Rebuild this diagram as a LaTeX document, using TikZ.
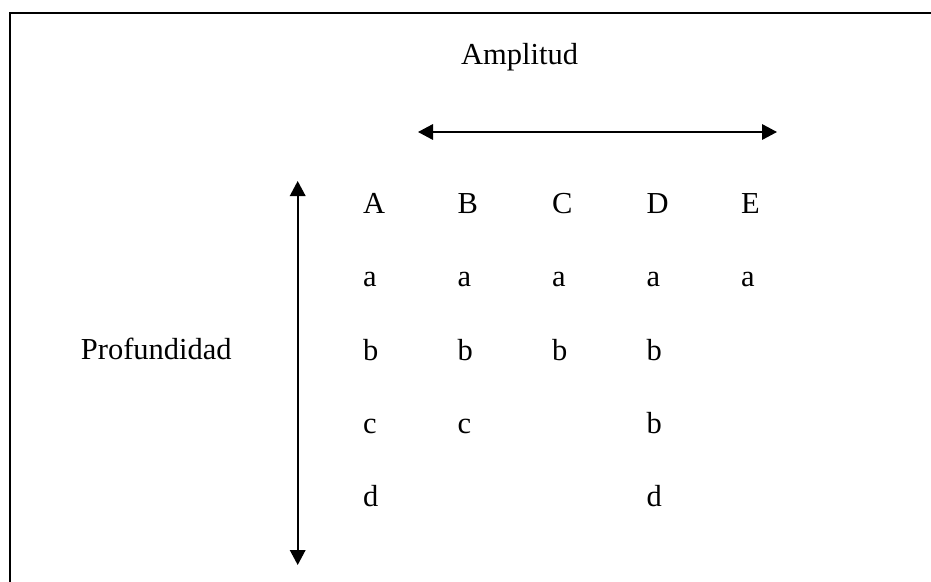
\documentclass[tikz,border=0pt]{standalone}
\usepackage{fontspec}
\setmainfont{Liberation Serif}
\usetikzlibrary{arrows.meta}
\begin{document}
\begin{tikzpicture}[x=1pt,y=-1pt,
  lbl/.style={anchor=base west,inner sep=0pt,font=\fontsize{30.5}{36}\selectfont},
  dbl/.style={line width=1.8pt,{Triangle[length=15pt,width=15.5pt]}-{Triangle[length=15pt,width=15.5pt]}}]
\useasboundingbox (0,0) rectangle (931,581);
% frame
\draw[line width=2pt] (9.8,590) -- (9.8,13) -- (940,13);
% titles
\node[lbl] (amp) at (461,64.3) {Amplitud};
\node[lbl] (prof) at (80.7,359) {Profundidad};
% arrows
\coordinate (hl) at (418,132);
\coordinate (hr) at (777,132);
\coordinate (vt) at (297.7,181);
\coordinate (vb) at (297.7,565);
\draw[dbl] (hl) -- (hr);
\draw[dbl] (vt) -- (vb);
% grid
\def\cA{363}\def\cB{457.5}\def\cC{552}\def\cD{646.5}\def\cE{741}
\def\rA{213.3}\def\rB{286.7}\def\rC{360}\def\rD{433.3}\def\rE{506.7}
\node[lbl] (hA) at (\cA,\rA) {A};
\node[lbl] (hB) at (\cB,\rA) {B};
\node[lbl] (hC) at (\cC,\rA) {C};
\node[lbl] (hD) at (\cD,\rA) {D};
\node[lbl] (hE) at (\cE,\rA) {E};
\node[lbl] (aA) at (\cA,\rB) {a};
\node[lbl] (aB) at (\cB,\rB) {a};
\node[lbl] (aC) at (\cC,\rB) {a};
\node[lbl] (aD) at (\cD,\rB) {a};
\node[lbl] (aE) at (\cE,\rB) {a};
\node[lbl] (bA) at (\cA,\rC) {b};
\node[lbl] (bB) at (\cB,\rC) {b};
\node[lbl] (bC) at (\cC,\rC) {b};
\node[lbl] (bD) at (\cD,\rC) {b};
\node[lbl] (cA) at (\cA,\rD) {c};
\node[lbl] (cB) at (\cB,\rD) {c};
\node[lbl] (cD) at (\cD,\rD) {b};
\node[lbl] (dA) at (\cA,\rE) {d};
\node[lbl] (dD) at (\cD,\rE) {d};
\end{tikzpicture}
\end{document}
